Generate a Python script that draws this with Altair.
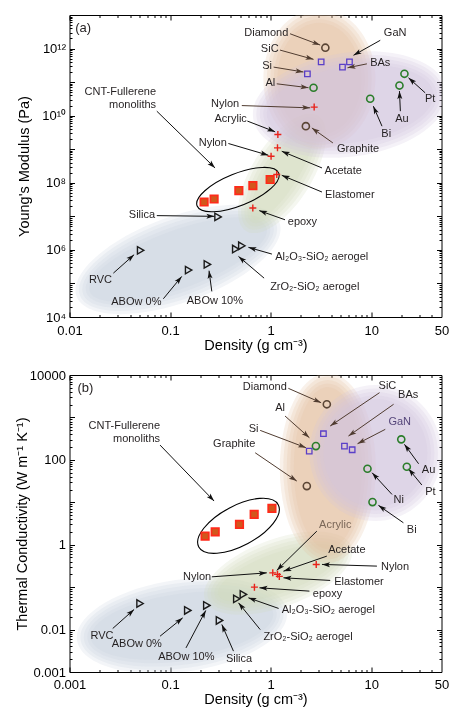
import math
import altair as alt
import pandas as pd

FONT = "Liberation Sans"
INK = "#231f20"
ARROW_BROWN = "#503c30"
BLUE, GREEN, TAN, PURPLE = "#c8d1de", "#d0d9bb", "#e2c0a0", "#d1c4dd"

W, H_A, H_B = 372, 302, 297
X_DOM = [0.01, 50]
Y_DOM = {"a": [1e4, 1e13], "b": [1e-3, 1e4]}
HEIGHT = {"a": H_A, "b": H_B}
PPD_X = W / math.log10(X_DOM[1] / X_DOM[0])
PPD_Y = {"a": H_A / 9, "b": H_B / 7}

# ---------------- panel (a): Young's modulus vs density ----------------
a_tri = [(0.051, 9.7e5), (0.153, 2.5e5), (0.235, 3.7e5), (0.30, 9.6e6), (0.45, 1.06e6), (0.517, 1.33e6)]
a_circ_brown = [(3.5, 1.06e12), (2.24, 4.86e9)]
a_circ_green = [(2.67, 6.8e10), (9.77, 3.2e10), (19.1, 7.9e10), (21.4, 1.77e11)]
a_sq_purple = [(3.18, 4.0e11), (2.32, 1.77e11), (5.18, 2.8e11), (6.08, 4.0e11)]
a_cross = [(2.71, 1.8e10), (1.18, 2.75e9), (1.17, 1.1e9), (1.01, 6.2e8), (1.15, 1.76e8), (0.665, 1.77e7)]
a_cnt = [(0.218, 2.67e7), (0.274, 3.28e7), (0.483, 5.85e7), (0.666, 8.25e7), (0.989, 1.25e8)]
a_cnt_ring = [(0.473, 6.27e7)]
a_blobs = [(0.120, 5.2e5), (1.30, 1.92e8), (3.05, 1.26e11), (6.18, 2.15e10)]

a_arrows_brown = [
    (1.56, 2.76e12, 3.11, 1.27e12), (1.24, 9.0e11, 2.67, 4.76e11), (1.07, 2.8e11, 2.12, 2.0e11),
    (1.15, 8.9e10, 2.38, 6.8e10), (0.517, 2.0e10, 2.47, 1.71e10), (9.06, 3.5e11, 5.81, 2.67e11),
    (4.16, 1.54e9, 2.57, 4.3e9),
]
a_arrows_black = [
    (12.3, 1.76e12, 6.67, 6.3e11), (34.4, 4.8e10, 23.5, 1.34e11), (19.5, 1.36e10, 19.1, 5.4e10),
    (12.8, 4.86e9, 10.5, 1.92e10), (0.587, 6.9e9, 1.11, 3.3e9), (0.38, 1.48e9, 0.95, 6.6e8),
    (3.24, 2.77e8, 1.29, 8.7e8), (3.24, 5.3e7, 1.29, 1.67e8), (1.39, 7.9e6, 0.77, 1.48e7),
    (0.0738, 1.36e10, 0.28, 2.77e8), (0.0738, 1.05e7, 0.276, 1.0e7), (0.0273, 2.03e5, 0.0439, 7.2e5),
    (0.0857, 3.49e4, 0.1306, 1.62e5), (0.26, 5.8e4, 0.244, 2.4e5), (1.03, 7.5e5, 0.601, 1.19e6),
    (0.861, 1.44e5, 0.479, 6.4e5),
]
a_lab_right = [("Diamond", 1.50, 2.96e12), ("SiC", 1.20, 9.5e11), ("Si", 1.03, 3.0e11), ("Al", 1.11, 9.5e10),
               ("Nylon", 0.486, 2.16e10), ("Acrylic", 0.58, 7.7e9), ("Nylon", 0.367, 1.54e9),
               ("CNT-Fullerene", 0.0726, 5.0e10), ("monoliths", 0.0726, 2.06e10), ("Silica", 0.071, 1.07e7)]
a_lab_left = [("Acetate", 3.44, 2.31e8), ("Elastomer", 3.48, 4.45e7), ("epoxy", 1.48, 6.8e6),
              ("Al₂O₃-SiO₂ aerogel", 1.11, 6.1e5), ("ZrO₂-SiO₂ aerogel", 0.989, 7.6e4),
              ("BAs", 9.77, 3.77e11), ("Graphite", 4.56, 1.05e9)]
a_lab_center = [("GaN", 17.3, 2.96e12), ("Pt", 38.6, 3.05e10), ("Au", 20.2, 7.7e9), ("Bi", 14.1, 2.75e9),
                ("RVC", 0.0203, 1.23e5), ("ABOw 0%", 0.0462, 2.77e4), ("ABOw 10%", 0.279, 3.05e4)]
a_lab_brown = []
a_lab_purple = []
a_tag = [("(a)", 0.0114, 4.2e12)]

# ---------------- panel (b): thermal conductivity vs density ----------------
b_tri = [(0.0503, 0.0412), (0.150, 0.0282), (0.232, 0.037), (0.31, 0.0164), (0.461, 0.053), (0.536, 0.0673)]
b_circ_brown = [(3.62, 2040), (2.29, 24.1)]
b_circ_green = [(2.82, 211), (9.18, 61.7), (10.3, 10.1), (19.9, 304), (22.6, 68.7)]
b_sq_purple = [(3.35, 413), (2.42, 161), (5.42, 211), (6.47, 173)]
b_cross = [(1.05, 0.217), (1.17, 0.2), (1.22, 0.179), (2.84, 0.343), (0.69, 0.1)]
b_cnt = [(0.223, 1.60), (0.281, 2.01), (0.490, 3.01), (0.686, 5.19), (1.03, 7.18)]
b_cnt_ring = [(0.479, 2.79)]
b_blobs = [(0.1315, 0.0124), (1.19, 0.214), (3.7, 64), (11.0, 145)]

b_arrows_brown = [
    (1.5, 4850, 3.18, 2220), (12.1, 3830, 3.91, 627), (16.7, 2040, 5.94, 364), (13.8, 524, 7.31, 240),
    (1.39, 1080, 2.43, 332), (0.787, 495, 2.25, 193), (0.702, 147, 1.82, 31.6),
]
b_arrows_black = [
    (0.0795, 223, 0.274, 10.7), (2.88, 2.09, 1.15, 0.248), (3.62, 0.538, 1.34, 0.238),
    (11.4, 0.313, 3.24, 0.343), (0.26, 0.175, 0.916, 0.217), (3.91, 0.144, 1.34, 0.166),
    (2.43, 0.0805, 0.774, 0.0964), (1.2, 0.0315, 0.601, 0.056), (0.787, 0.01, 0.479, 0.0427),
    (0.427, 0.0031, 0.327, 0.0132), (0.0269, 0.0106, 0.0439, 0.0298), (0.0795, 0.00698, 0.1336, 0.0189),
    (0.144, 0.0037, 0.2265, 0.0282), (29.6, 80.9, 21.4, 232), (31.9, 25.5, 23.5, 61.7),
    (16.1, 15.3, 10.2, 49.7), (20.9, 3.29, 11.8, 8.46),
]
b_lab_right = [("Diamond", 1.45, 5210), ("Si", 0.757, 524), ("CNT-Fullerene", 0.0795, 627),
               ("monoliths", 0.0795, 315), ("Nylon", 0.256, 0.175)]
b_lab_left = [("Nylon", 12.5, 0.296), ("Elastomer", 4.28, 0.131), ("epoxy", 2.63, 0.0695),
              ("Al₂O₃-SiO₂ aerogel", 1.29, 0.0282), ("ZrO₂-SiO₂ aerogel", 0.847, 0.00673),
              ("Au", 31.9, 56.5), ("Pt", 34.4, 17.7), ("Ni", 16.7, 11.1), ("Bi", 22.6, 2.17)]
b_lab_center = [("SiC", 14.5, 5490), ("BAs", 23.3, 3370), ("Al", 1.24, 1640), ("Graphite", 0.434, 232),
                ("Acetate", 5.73, 0.746), ("RVC", 0.021, 0.00698), ("ABOw 0%", 0.0467, 0.0046),
                ("ABOw 10%", 0.145, 0.00223), ("Silica", 0.485, 0.00208)]
b_lab_brown = [("Acrylic", 4.39, 2.85)]
b_lab_purple = [("GaN", 19.2, 792)]
b_tag = [("(b)", 0.012, 5000)]

# ---------------- axes ----------------
X_LABELS = [0.01, 0.1, 1, 10, 50]
X_MAJOR = [0.01, 0.1, 1, 10]
X_MINOR = [k * 10.0 ** e for e in range(-2, 2) for k in range(2, 10) if k * 10.0 ** e < 50]
Y_LABELS = {"a": [1e4, 1e6, 1e8, 1e10, 1e12], "b": [1e-3, 1e-2, 1, 1e2, 1e4]}
Y_MAJOR = {"a": [10.0 ** e for e in range(4, 14)], "b": [10.0 ** e for e in range(-3, 5)]}
Y_MINOR = {"a": [k * 10.0 ** e for e in range(4, 13) for k in range(2, 10)],
           "b": [k * 10.0 ** e for e in range(-3, 4) for k in range(2, 10)]}
X_EXPR = {
    "a": "datum.value < 0.03 ? '0.01' : datum.value < 0.3 ? '0.1' : datum.value < 3 ? '1' : datum.value < 30 ? '10' : '50'",
    "b": "datum.value < 0.03 ? '0.001' : datum.value < 0.3 ? '0.1' : datum.value < 3 ? '1' : datum.value < 30 ? '10' : '50'",
}
Y_EXPR = {
    "a": "datum.value < 100000 ? '10⁴' : datum.value < 10000000 ? '10⁶' : datum.value < 1000000000 ? '10⁸' : datum.value < 100000000000 ? '10¹⁰' : '10¹²'",
    "b": "datum.value < 0.005 ? '0.001' : datum.value < 0.1 ? '0.01' : datum.value < 10 ? '1' : datum.value < 1000 ? '100' : '10000'",
}
Y_TITLE = {"a": "Young's Modulus (Pa)", "b": "Thermal Conductivity (W m⁻¹ K⁻¹)"}
Y_TITLE_X = {"a": -45.5, "b": -47}
X_LABEL_PAD = {"a": 7, "b": 6.5}
X_TITLE_Y = {"a": 28.5, "b": 27.5}
TICK_FS = 13


def x_axis(p, role):
    if role is None:
        return None
    if role == "label":
        return alt.Axis(orient="bottom", values=X_LABELS, ticks=False, domain=False, grid=False,
                        labelExpr=X_EXPR[p], labelFont=FONT, labelFontSize=TICK_FS, labelColor="black",
                        labelPadding=X_LABEL_PAD[p], labelFlush=False, labelOverlap=False,
                        title="Density (g cm⁻³)", titleFont=FONT, titleFontSize=14.5,
                        titleFontWeight="normal", titleColor="black", titleX=W / 2,
                        titleY=X_TITLE_Y[p], titleBaseline="middle", titleAlign="center")
    orient = "top" if role.endswith("_t") else "bottom"
    major = role.startswith("major")
    ts = 5 if major else 2.5
    return alt.Axis(orient=orient, values=X_MAJOR if major else X_MINOR, labels=False, title="",
                    grid=False, domain=False, tickColor="black", tickWidth=1, tickSize=ts, offset=-ts)


def y_axis(p, role):
    if role is None:
        return None
    if role == "label":
        return alt.Axis(orient="left", values=Y_LABELS[p], ticks=False, domain=False, grid=False,
                        labelExpr=Y_EXPR[p], labelFont=FONT, labelFontSize=TICK_FS, labelColor="black",
                        labelPadding=4, labelFlush=False, labelOverlap=False,
                        title=Y_TITLE[p], titleFont=FONT, titleFontSize=14.5, titleFontWeight="normal",
                        titleColor="black", titleX=Y_TITLE_X[p], titleY=HEIGHT[p] / 2, titleAngle=270,
                        titleBaseline="middle", titleAlign="center")
    orient = "right" if role.endswith("_t") else "left"
    major = role.startswith("major")
    ts = 5 if major else 2.5
    return alt.Axis(orient=orient, values=Y_MAJOR[p] if major else Y_MINOR[p], labels=False, title="",
                    grid=False, domain=False, tickColor="black", tickWidth=1, tickSize=ts, offset=-ts)


def place(chart, p, role=None, xf="x", yf="y"):
    return chart.encode(
        x=alt.X(f"{xf}:Q", scale=alt.Scale(type="log", domain=X_DOM, nice=False), axis=x_axis(p, role)),
        y=alt.Y(f"{yf}:Q", scale=alt.Scale(type="log", domain=Y_DOM[p], nice=False), axis=y_axis(p, role)),
    )


def xy(pts):
    return pd.DataFrame(pts, columns=["x", "y"])


def ellipse_path(a, b):
    return f"M{-a},0A{a},{b} 0 1,0 {a},0A{a},{b} 0 1,0 {-a},0Z"


ARROW = "M0,0L2.5,8L0,6.2L-2.5,8Z"
CROSS = "M-3.5,0L3.5,0M0,-3.5L0,3.5"
RINGS, STEP, ALPHA = 5, 3.5, 0.22

BLOB_STYLE = {
    "a": [(108, 43, 340, BLUE), (68, 30, 302, GREEN), (56, 70, 0, TAN), (98, 52, 352, PURPLE)],
    "b": [(106, 46, 352, BLUE), (78, 34, 340, GREEN), (48, 95, 0, TAN), (66, 68, 0, PURPLE)],
}
RING_STYLE = {"a": (44, 16, 338), "b": (45, 20, 332)}


def arrow_df(arrows, p):
    rows = []
    for x1, y1, x2, y2 in arrows:
        dx = (math.log10(x2) - math.log10(x1)) * PPD_X
        dy = -(math.log10(y2) - math.log10(y1)) * PPD_Y[p]
        ang = math.degrees(math.atan2(dx, -dy)) % 360
        rows.append({"x": x1, "y": y1, "x2": x2, "y2": y2, "ang": ang})
    return pd.DataFrame(rows)


def build_panel(p, blobs, ring, tri, cb, cg, sq, cr, cnt, arr_brown, arr_black,
                lab_r, lab_l, lab_c, lab_brown, lab_purple, tag):
    layers = []
    first = True
    for (cx, cy), (a, b, ang, col) in zip(blobs, BLOB_STYLE[p]):
        df = xy([(cx, cy)])
        for k in range(RINGS):
            ch = alt.Chart(df).mark_point(shape=ellipse_path(a - k * STEP, b - k * STEP), size=4,
                                          filled=True, color=col, opacity=ALPHA, angle=ang,
                                          blend="multiply", clip=True)
            layers.append(place(ch, p, "minor" if first else None))
            first = False
    ra, rb, rang = RING_STYLE[p]
    layers.append(place(alt.Chart(xy(ring)).mark_point(shape=ellipse_path(ra, rb), size=4, filled=False,
                                                        color="black", strokeWidth=1.1, angle=rang,
                                                        opacity=1), p, "minor_t"))
    for arrows, col, role in ((arr_brown, ARROW_BROWN, "major"), (arr_black, "#111111", "major_t")):
        df = arrow_df(arrows, p)
        layers.append(place(alt.Chart(df).mark_rule(color=col, strokeWidth=1), p, role)
                      .encode(x2=alt.X2("x2:Q"), y2=alt.Y2("y2:Q")))
        layers.append(place(alt.Chart(df).mark_point(shape=ARROW, size=4, filled=True, color=col,
                                                     opacity=1), p, None, xf="x2", yf="y2")
                      .encode(angle=alt.Angle("ang:Q", scale=None)))
    layers.append(place(alt.Chart(xy(tri)).mark_point(shape="triangle-right", size=55, filled=False,
                                                      color="#1a1a1a", strokeWidth=1.4, opacity=1), p))
    layers.append(place(alt.Chart(xy(cb)).mark_point(shape="circle", size=50, filled=False,
                                                     color="#5a4535", strokeWidth=1.6, opacity=1), p))
    layers.append(place(alt.Chart(xy(cg)).mark_point(shape="circle", size=50, filled=False,
                                                     color="#2a7d2a", strokeWidth=1.6, opacity=1), p))
    layers.append(place(alt.Chart(xy(sq)).mark_point(shape="square", size=30, filled=False,
                                                     color="#5a3fc8", strokeWidth=1.3, opacity=1), p))
    layers.append(place(alt.Chart(xy(cr)).mark_point(shape=CROSS, size=4, filled=False,
                                                     color="#e8231b", strokeWidth=1.4, opacity=1), p))
    layers.append(place(alt.Chart(xy(cnt)).mark_point(shape="square", size=56, filled=True,
                                                      fill="#d2571c", stroke="#ff2a1a", strokeWidth=1.7,
                                                      opacity=1), p, "label"))
    for labs, align, col, fs in ((lab_r, "right", INK, 11), (lab_l, "left", INK, 11),
                                 (lab_c, "center", INK, 11), (lab_brown, "center", "#7a6758", 11),
                                 (lab_purple, "center", "#55467a", 11), (tag, "left", INK, 13)):
        if not labs:
            continue
        df = pd.DataFrame(labs, columns=["t", "x", "y"])
        layers.append(place(alt.Chart(df).mark_text(align=align, baseline="middle", font=FONT,
                                                    fontSize=fs, color=col), p).encode(text="t:N"))
    return (alt.layer(*layers)
            .resolve_axis(x="independent", y="independent")
            .properties(width=W, height=HEIGHT[p]))


top = build_panel("a", a_blobs, a_cnt_ring, a_tri, a_circ_brown, a_circ_green, a_sq_purple, a_cross, a_cnt,
                  a_arrows_brown, a_arrows_black, a_lab_right, a_lab_left, a_lab_center, a_lab_brown,
                  a_lab_purple, a_tag)
bottom = build_panel("b", b_blobs, b_cnt_ring, b_tri, b_circ_brown, b_circ_green, b_sq_purple, b_cross, b_cnt,
                     b_arrows_brown, b_arrows_black, b_lab_right, b_lab_left, b_lab_center, b_lab_brown,
                     b_lab_purple, b_tag)

chart = (alt.vconcat(top, bottom, spacing=58, bounds="flush")
         .configure(font=FONT)
         .configure_view(stroke="black", strokeWidth=1)
         .properties(padding={"left": 13.5, "top": 14, "right": 0, "bottom": 0}, background="white"))

chart.save("out.html", embed_options={"renderer": "svg", "actions": False})
